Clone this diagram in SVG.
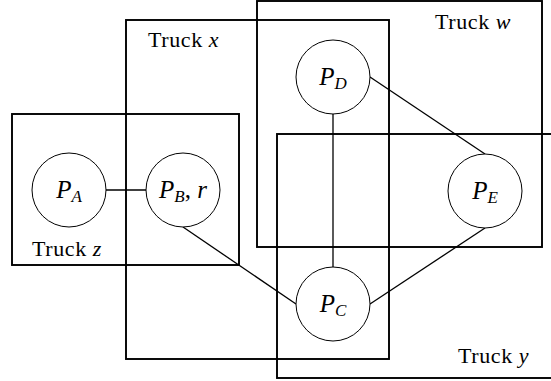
<svg xmlns="http://www.w3.org/2000/svg" width="551" height="381" viewBox="0 0 551 381">
<style>
.truck{fill:none;stroke:#000;stroke-width:1.9}
.edge{stroke:#000;stroke-width:1.3;fill:none}
.node circle{fill:#fff;stroke:#000;stroke-width:1}
.lbl{font-size:22px;letter-spacing:0.6px}
.m{font-style:italic}
.nt{font-size:25px;text-anchor:middle}
.sub{font-size:17px}
</style>
<rect width="551" height="381" fill="#fff"/>
<g id="trucks" font-family="Liberation Serif, DejaVu Serif, serif">
<g id="truck-z"><rect class="truck" x="12" y="114" width="227" height="151"/><text class="lbl" font-family="Liberation Serif" x="32" y="256">Truck <tspan class="m">z</tspan></text></g>
<g id="truck-x"><rect class="truck" x="126" y="20" width="263" height="339"/><text class="lbl" font-family="Liberation Serif" x="148" y="47">Truck <tspan class="m">x</tspan></text></g>
<g id="truck-w"><rect class="truck" x="257" y="1" width="285" height="246"/><text class="lbl" font-family="Liberation Serif" x="435" y="29">Truck <tspan class="m">w</tspan></text></g>
<g id="truck-y"><rect class="truck" x="277" y="134" width="300" height="244"/><text class="lbl" font-family="Liberation Serif" x="458" y="363">Truck <tspan class="m">y</tspan></text></g>
</g>
<g id="connectors">
<line class="edge" x1="106" y1="190" x2="146" y2="190"/>
<line class="edge" x1="333" y1="114" x2="333" y2="267"/>
<line class="edge" x1="370" y1="77" x2="485" y2="154"/>
<line class="edge" x1="183" y1="227" x2="296" y2="304"/>
<line class="edge" x1="370" y1="304" x2="485" y2="228"/>
</g>
<g id="nodes" font-family="Liberation Serif, DejaVu Serif, serif">
<g id="PA" class="node"><circle cx="69" cy="190" r="37"/><text class="nt" font-family="Liberation Serif" x="69" y="198"><tspan class="m">P</tspan><tspan class="sub m" dy="4">A</tspan></text></g>
<g id="PB" class="node"><circle cx="183" cy="190" r="37"/><text class="nt" font-family="Liberation Serif" x="183" y="198"><tspan class="m">P</tspan><tspan class="sub m" dy="4">B</tspan><tspan dy="-4">, </tspan><tspan class="m">r</tspan></text></g>
<g id="PD" class="node"><circle cx="333" cy="77" r="37"/><text class="nt" font-family="Liberation Serif" x="333" y="85"><tspan class="m">P</tspan><tspan class="sub m" dy="4">D</tspan></text></g>
<g id="PE" class="node"><circle cx="485" cy="191" r="37"/><text class="nt" font-family="Liberation Serif" x="485" y="199"><tspan class="m">P</tspan><tspan class="sub m" dy="4">E</tspan></text></g>
<g id="PC" class="node"><circle cx="333" cy="304" r="37"/><text class="nt" font-family="Liberation Serif" x="333" y="312"><tspan class="m">P</tspan><tspan class="sub m" dy="4">C</tspan></text></g>
</g>
</svg>
